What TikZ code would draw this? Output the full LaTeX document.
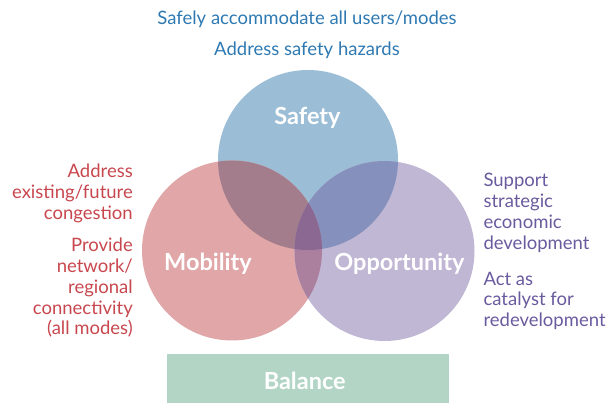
\documentclass[tikz,border=0pt]{standalone}
\usepackage{fontspec}
\setmainfont{Lato}
\begin{document}
\begin{tikzpicture}[x=1pt,y=-1pt,
  bodytext/.style={inner sep=0pt, font=\fontsize{18.5}{20.8}\selectfont},
  label/.style={inner sep=0pt, text=white, font=\fontsize{23.5}{26}\selectfont\bfseries},
  ring/.style={circle, minimum size=180pt, inner sep=0pt}
]
\definecolor{cS}{HTML}{9BBDD6}
\definecolor{cM}{HTML}{E0A6A8}
\definecolor{cO}{HTML}{C0B7D4}
\definecolor{cSM}{HTML}{A37D8B}
\definecolor{cSO}{HTML}{8591BC}
\definecolor{cMO}{HTML}{AB809F}
\definecolor{cSMO}{HTML}{8A6891}
\definecolor{cB}{HTML}{B3D5C5}
\definecolor{tS}{HTML}{2E79B2}
\definecolor{tM}{HTML}{C8474E}
\definecolor{tO}{HTML}{6A5A9E}
\useasboundingbox (0,0) rectangle (609,403);
% circles
\node[ring, fill=cS] (S) at (308,160) {};
\node[ring, fill=cM] (M) at (232,250.5) {};
\node[ring, fill=cO] (O) at (384.5,251) {};
% overlaps
\begin{scope}
  \clip (308,160) circle[radius=90pt];
  \fill[cSM] (232,250.5) circle[radius=90pt];
  \fill[cSO] (384.5,251) circle[radius=90pt];
\end{scope}
\begin{scope}
  \clip (232,250.5) circle[radius=90pt];
  \fill[cMO] (384.5,251) circle[radius=90pt];
  \clip (384.5,251) circle[radius=90pt];
  \fill[cSMO] (308,160) circle[radius=90pt];
\end{scope}
% balance
\node[fill=cB, minimum width=282pt, minimum height=49pt, inner sep=0pt, anchor=north west] (B) at (167,354) {};
% labels
\node[label, anchor=base] (lS) at (307.5,125) {Safety};
\node[label, anchor=base] (lM) at (208,270) {Mobility};
\node[label, anchor=base] (lO) at (399.4,270) {Opportunity};
\node[label, anchor=base] (lB) at (304.7,389.3) {Balance};
% texts
\node[bodytext, text=tS, anchor=base] (t1) at (307,25) {Safely accommodate all users/modes};
\node[bodytext, text=tS, anchor=base] (t2) at (307,56) {Address safety hazards};
\node[bodytext, text=tM, align=right, anchor=base east] (m1) at (133,219.1) {Address\\existing/future\\congestion};
\node[bodytext, text=tM, align=right, anchor=base east] (m2) at (133,334.9) {Provide\\network/\\regional\\connectivity\\(all modes)};
\node[bodytext, text=tO, align=left, anchor=base west] (o1) at (483.3,249.1) {Support\\strategic\\economic\\development};
\node[bodytext, text=tO, align=left, anchor=base west] (o2) at (483.3,326.6) {Act as\\catalyst for\\redevelopment};
\end{tikzpicture}
\end{document}
